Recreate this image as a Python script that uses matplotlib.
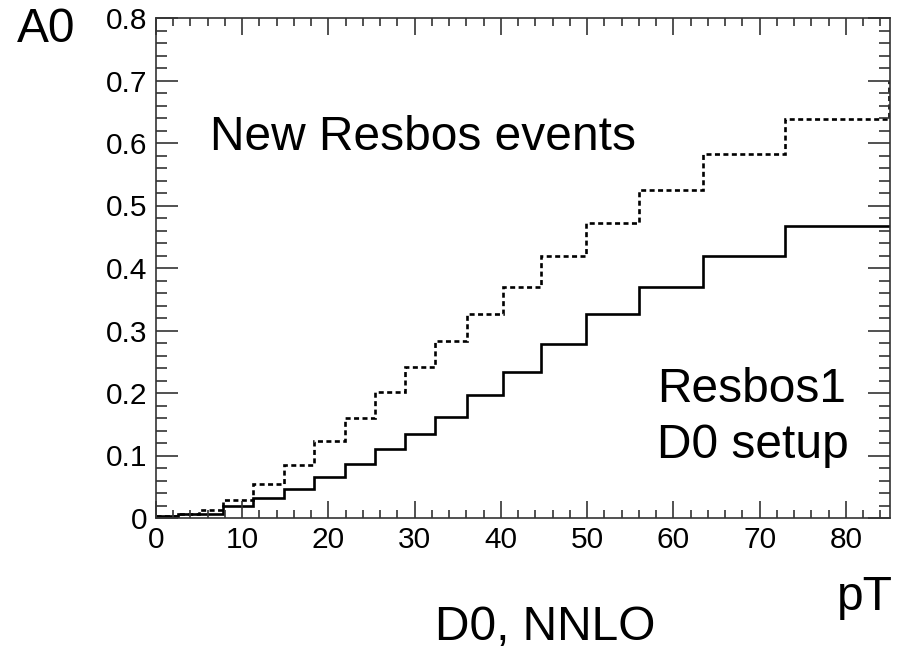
import matplotlib
matplotlib.use("Agg")
import matplotlib.pyplot as plt
from matplotlib.ticker import MultipleLocator, FixedLocator, FixedFormatter

plt.rcParams['font.family'] = ['Liberation Sans', 'DejaVu Sans']

# bin edges in pT (last bin extends past the visible range)
edges = [0, 2.5, 5, 7.8, 11.3, 14.8, 18.3, 21.9, 25.4, 28.9, 32.4, 36.1,
         40.2, 44.6, 49.9, 56.0, 63.4, 72.9, 85.0, 100.0]
# Resbos1 D0 setup (solid)
resbos1 = [0.003, 0.006, 0.007, 0.019, 0.032, 0.047, 0.066, 0.087, 0.110,
           0.134, 0.161, 0.197, 0.233, 0.278, 0.326, 0.370, 0.419, 0.467, 0.467]
# New Resbos events (dashed)
new_resbos = [0.003, 0.006, 0.013, 0.029, 0.055, 0.085, 0.123, 0.160, 0.201,
              0.242, 0.284, 0.327, 0.370, 0.419, 0.472, 0.525, 0.582, 0.639, 0.697]

ytick_vals = [0, 0.1, 0.2, 0.3, 0.4, 0.5, 0.6, 0.7, 0.8]
ytick_labels = ['0', '0.1', '0.2', '0.3', '0.4', '0.5', '0.6', '0.7', '0.8']
xtick_vals = [0, 10, 20, 30, 40, 50, 60, 70, 80]
xtick_labels = ['0', '10', '20', '30', '40', '50', '60', '70', '80']

W, H = 908, 651
fig = plt.figure(figsize=(W / 100, H / 100), dpi=100)
L, R, T, B = 156, 890, 18, 518
ax = fig.add_axes([L / W, (H - B) / H, (R - L) / W, (B - T) / H])

ax.stairs(resbos1, edges, baseline=None, color='black', linewidth=1.9)
ax.stairs(new_resbos, edges, baseline=None, color='black', linewidth=1.9,
          linestyle=(0, (1.9, 1.3)))

ax.set_xlim(0, 85.12)
ax.set_ylim(0, 0.8)

ax.xaxis.set_major_locator(FixedLocator(xtick_vals))
ax.xaxis.set_major_formatter(FixedFormatter(xtick_labels))
ax.xaxis.set_minor_locator(MultipleLocator(2))
ax.yaxis.set_major_locator(FixedLocator(ytick_vals))
ax.yaxis.set_major_formatter(FixedFormatter(ytick_labels))
ax.yaxis.set_minor_locator(MultipleLocator(0.02))

for s in ax.spines.values():
    s.set_linewidth(1.2)
    s.set_color('#333333')

ax.tick_params(axis='x', which='both', direction='in', top=True, bottom=True,
               color='#333333', width=1.2, labelsize=21.5, pad=6)
ax.tick_params(axis='x', which='major', length=12)
ax.tick_params(axis='x', which='minor', length=6)
ax.tick_params(axis='y', which='both', direction='in', left=True, right=True,
               color='#333333', width=1.2, labelsize=21.5, pad=6)
ax.tick_params(axis='y', which='major', length=16)
ax.tick_params(axis='y', which='minor', length=8)

fs = 34.5
fig.text(210 / W, 1 - 137 / H, 'New Resbos events', fontsize=fs, va='center', ha='left')
fig.text(657 / W, 1 - 390 / H, 'Resbos1', fontsize=fs, va='center', ha='left')
fig.text(657 / W, 1 - 445 / H, 'D0 setup', fontsize=fs, va='center', ha='left')
fig.text(17 / W, 1 - 30 / H, 'A0', fontsize=fs, va='center', ha='left')
fig.text(893 / W, 1 - 597 / H, 'pT', fontsize=fs, va='center', ha='right')
fig.text(545 / W, 1 - 627 / H, 'D0, NNLO', fontsize=fs, va='center', ha='center')

fig.savefig('out.png', dpi=100)
